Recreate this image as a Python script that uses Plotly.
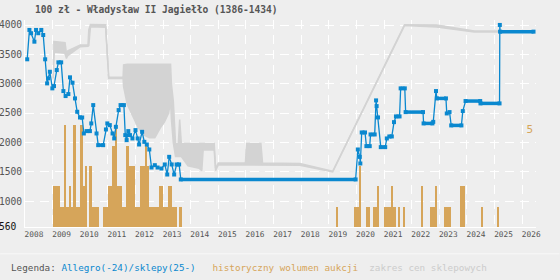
import plotly.graph_objects as go

# ---------------- data ----------------
# Allegro / shop prices (decimal year, PLN)
price_years = [
    2008.08, 2008.16, 2008.22, 2008.34, 2008.40, 2008.48, 2008.59, 2008.66, 2008.73, 2008.80, 2008.84, 2008.90, 2008.99,
    2009.05, 2009.15, 2009.21, 2009.31, 2009.39, 2009.47, 2009.57, 2009.63, 2009.72, 2009.81, 2009.89, 2009.99,
    2010.07, 2010.13, 2010.23, 2010.35, 2010.40, 2010.47, 2010.59, 2010.65, 2010.83, 2010.93, 2010.98,
    2011.07, 2011.17, 2011.23, 2011.29, 2011.39, 2011.46, 2011.58, 2011.63, 2011.68, 2011.74, 2011.80, 2011.89, 2012.00,
    2012.08, 2012.13, 2012.24, 2012.32, 2012.41, 2012.50, 2012.58, 2012.70, 2012.80, 2012.94,
    2013.06, 2013.15, 2013.22, 2013.31, 2013.40, 2013.49, 2013.58, 2013.64, 2019.97,
    2020.05, 2020.12, 2020.14, 2020.19, 2020.31, 2020.36, 2020.48, 2020.51, 2020.66, 2020.71, 2020.73, 2020.78, 2020.88, 2021.04,
    2021.10, 2021.19, 2021.28, 2021.36, 2021.43, 2021.56, 2021.60, 2021.75, 2021.78, 2022.41, 2022.43, 2022.75, 2022.78, 2022.88, 2022.91,
    2023.24, 2023.27, 2023.37, 2023.43, 2023.80, 2023.85, 2023.95, 2024.48, 2024.49, 2025.18, 2025.19, 2025.20, 2026.41,
]
price_values = [
    3416, 3916, 3860, 3716, 3916, 3860, 3916, 3830, 3416, 3006, 3092, 3204, 2921,
    2960, 3233, 3364, 3364, 2875, 2790, 2824, 3109, 3017, 2750, 2522, 2425,
    2425, 2153, 2193, 2193, 2324, 2636, 2153, 1954, 1954, 2221, 2324,
    2295, 2153, 2068, 2266, 2551, 2636, 2636, 2125, 2040, 2193, 2125, 2068, 2210,
    2068, 1965, 2181, 2010, 1965, 1880, 1573, 1613, 1573, 1556,
    1625, 1454, 1755, 1625, 1454, 1625, 1625, 1370, 1370,
    1880, 1754, 1642, 2170, 2170, 1937, 1937, 2136, 2136, 2716, 2619, 2426, 1920, 1920,
    2068, 2102, 2102, 2346, 2443, 2443, 2921, 2921, 2517, 2517, 2324, 2324, 2351, 2875, 2750,
    2750, 2494, 2517, 2290, 2290, 2534, 2705, 2705, 2665, 2665, 4001, 3887, 3887,
]

# Shop price range (decimal year, low, high)
range_years = [
    2009.02, 2009.06, 2009.45, 2009.50, 2009.55, 2009.90, 2010.00, 2010.28, 2010.31, 2010.37,
    2010.88, 2010.92, 2011.03, 2011.55, 2011.57, 2011.70, 2011.90, 2012.10, 2012.30, 2012.50,
    2012.70, 2012.90, 2013.05, 2013.20, 2013.27, 2013.30, 2013.37, 2013.45, 2013.55, 2013.60,
    2013.66, 2013.90, 2014.30, 2014.40, 2014.45, 2014.85, 2014.90, 2015.00, 2015.98, 2016.02,
    2016.54, 2016.60, 2017.95, 2019.14, 2021.74, 2022.90, 2024.27, 2025.18,
]
range_low = [
    3090, 3540, 3520, 3430, 3480, 3600, 3630, 3640, 3650, 3970,
    3970, 3960, 3090, 3090, 2950, 2650, 2450, 2250, 2130, 2080,
    2080, 2250, 2350, 2500, 2700, 2400, 1990, 1760, 1760, 1760,
    1760, 1600, 1560, 1520, 1870, 1870, 1520, 1620, 1620, 1620,
    1620, 1620, 1610, 1500, 3990, 3965, 3880, 3880,
]
range_high = [
    3720, 3720, 3700, 3520, 3560, 3640, 3660, 3660, 3915, 4010,
    4010, 4005, 3115, 3110, 3320, 3330, 3330, 3330, 3330, 3330,
    3330, 3330, 3330, 3330, 3330, 3000, 2700, 1980, 1980, 2390,
    1980, 1980, 1980, 1980, 1980, 1980, 1560, 1650, 1650, 1980,
    1980, 1650, 1640, 1510, 4005, 4000, 3900, 3900,
]

# Historical auction volume (month, count)
volume_months = [
    "2009-01", "2009-02", "2009-03", "2009-04", "2009-05", "2009-06", "2009-07", "2009-08", "2009-09", "2009-10", "2009-11", "2009-12",
    "2010-01", "2010-02", "2010-03", "2010-05", "2010-06", "2010-07", "2010-08", "2010-11", "2010-12",
    "2011-01", "2011-02", "2011-03", "2011-04", "2011-05", "2011-06", "2011-07", "2011-08", "2011-09", "2011-10", "2011-11", "2011-12",
    "2012-01", "2012-02", "2012-03", "2012-04", "2012-05", "2012-06", "2012-07", "2012-08", "2012-09", "2012-10", "2012-11", "2012-12",
    "2013-01", "2013-02", "2013-03", "2013-04", "2013-05", "2013-06", "2013-08",
    "2019-04", "2019-12",
    "2020-01", "2020-02", "2020-05", "2020-06", "2020-08", "2020-09", "2020-10",
    "2021-01", "2021-02", "2021-03", "2021-04", "2021-05", "2021-07", "2021-09",
    "2022-05", "2022-09", "2022-10", "2022-11",
    "2023-03", "2023-04", "2023-05", "2023-10", "2023-11",
    "2024-07", "2025-02",
]
volume_counts = [
    2, 2, 2, 1, 1, 5, 1, 2, 1, 5, 1, 1,
    5, 2, 3, 3, 1, 1, 1, 1, 1,
    2, 2, 4, 5, 2, 2, 1, 1, 4, 3, 3, 3,
    1, 1, 3, 3, 4, 3, 1, 1, 1, 1, 2, 2,
    1, 1, 2, 2, 1, 1, 1,
    1, 1,
    1, 3, 1, 1, 1, 1, 2,
    1, 1, 1, 2, 1, 1, 1,
    2, 1, 1, 2,
    1, 1, 1, 2, 2,
    1, 1,
]

year_ticks = list(range(2008, 2027))
value_ticks = [560, 1000, 1500, 2000, 2500, 3000, 3500, 4000]
volume_ticks = [5]

title_text = "100 zł - Władysław II Jagiełło (1386-1434)"

# ---------------- styling ----------------
BG = "#eeeeee"
BLUE = "#0a88cf"
ORANGE = "#d6a55a"
GRAY = "#d3d3d3"
MONO = "DejaVu Sans Mono"

# month strings -> centre of month in decimal years
vol_x = [int(m[:4]) + (int(m[5:]) - 1) / 12 + 1 / 24 for m in volume_months]

# segments where the price stays constant (drawn thicker)
flat_x, flat_y = [], []
for i in range(1, len(price_values)):
    if price_values[i] == price_values[i - 1]:
        flat_x += [price_years[i - 1], price_years[i], None]
        flat_y += [price_values[i - 1], price_values[i], None]

fig = go.Figure()

fig.add_trace(go.Bar(
    x=vol_x, y=volume_counts, width=1 / 12, marker=dict(color=ORANGE, line=dict(width=0)),
    yaxis="y", hoverinfo="skip", showlegend=False,
))
fig.add_trace(go.Scatter(
    x=range_years, y=range_low, mode="lines", line=dict(color=GRAY, width=1.5),
    yaxis="y2", hoverinfo="skip", showlegend=False,
))
fig.add_trace(go.Scatter(
    x=range_years, y=range_high, mode="lines", line=dict(color=GRAY, width=1.5),
    fill="tonexty", fillcolor=GRAY, yaxis="y2", hoverinfo="skip", showlegend=False,
))
fig.add_trace(go.Scatter(
    x=flat_x, y=flat_y, mode="lines", line=dict(color=BLUE, width=3.5),
    yaxis="y2", hoverinfo="skip", showlegend=False,
))
fig.add_trace(go.Scatter(
    x=price_years, y=price_values, mode="lines+markers",
    line=dict(color=BLUE, width=1.3),
    marker=dict(symbol="square", size=4, color=BLUE, line=dict(width=0)),
    yaxis="y2", hoverinfo="skip", showlegend=False,
))

value_text = ["<span style='color:#111'>560 </span>" if v == 560 else str(v) for v in value_ticks]

fig.update_layout(
    width=560, height=280,
    margin=dict(l=25, r=23.5, t=20, b=53.3, pad=0),
    paper_bgcolor=BG, plot_bgcolor=BG,
    bargap=0, showlegend=False,
    title=dict(
        text="<b>" + title_text + "</b>",
        x=35 / 560, xanchor="left", y=1 - 10 / 280, yanchor="middle",
        font=dict(family=MONO, size=9.6, color="#555555"),
    ),
    xaxis=dict(
        range=[2008, 2026.5], tickvals=year_ticks, ticktext=[str(y) for y in year_ticks],
        ticklabelshift=9, ticks="", showgrid=True, gridcolor="white", gridwidth=1,
        griddash="9px,6px", showline=True, linecolor="white", linewidth=1,
        zeroline=False, automargin=False,
        tickfont=dict(family=MONO, size=7.8, color="#555555"),
    ),
    yaxis=dict(
        range=[0, 206.7 / 20.3], side="right", tickvals=volume_ticks,
        ticktext=[str(v) for v in volume_ticks], ticklabelposition="inside",
        ticklabelshift=4, ticks="", showgrid=False, showline=False, zeroline=False,
        automargin=False,
        tickfont=dict(family=MONO, size=11, color=ORANGE),
    ),
    yaxis2=dict(
        range=[560, 4085.3], overlaying="y", side="left",
        tickvals=value_ticks, ticktext=value_text, ticks="",
        showgrid=True, gridcolor="white", gridwidth=1, griddash="9px,6px",
        showline=True, linecolor="white", linewidth=1, zeroline=False,
        automargin=False,
        tickfont=dict(family=MONO, size=9.6, color="#555555"),
    ),
    shapes=[dict(
        type="line", xref="paper", yref="paper",
        x0=-25 / 511.5, x1=535 / 511.5, y0=(226.7 - 253.5) / 206.7, y1=(226.7 - 253.5) / 206.7,
        line=dict(color="#f8f8f8", width=1),
    )],
    annotations=[dict(
        xref="paper", yref="paper", x=(9 - 25) / 511.5, y=(226.7 - 267) / 206.7,
        xanchor="left", yanchor="middle", showarrow=False,
        text=("Legenda: <span style='color:" + BLUE + "'>Allegro(-24)/sklepy(25-)</span>   "
              "<span style='color:" + ORANGE + "'>historyczny wolumen aukcji</span>  "
              "<span style='color:#cccccc'>zakres cen sklepowych</span>"),
        font=dict(family=MONO, size=9.3, color="#555555"),
    )],
)

fig.write_html("out.html")
